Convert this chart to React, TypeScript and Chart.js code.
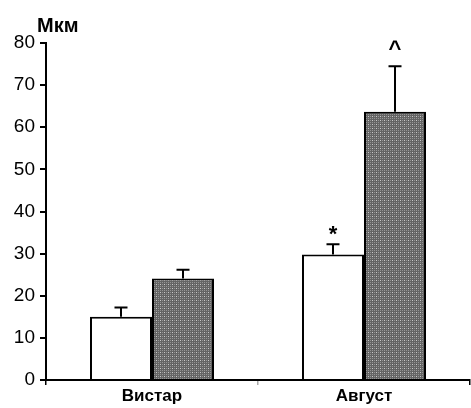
import React, { useEffect, useRef } from "react";
import { Chart, registerables } from "chart.js";

Chart.register(...registerables);

const categories = ["Вистар", "Август"];
const controlValues = [15.0, 29.8];
const controlErrors = [2.2, 2.4];
const treatedValues = [24.1, 63.7];
const treatedErrors = [2.1, 10.8];
const controlMarks = ["", "*"];
const treatedMarks = ["", "^"];
const yUnit = "Мкм";
const yMin = 0;
const yMax = 80;
const yStep = 10;

const FONT = "'Liberation Sans', Arial, sans-serif";

function makePattern(): CanvasPattern | string {
  const c = document.createElement("canvas");
  c.width = 4;
  c.height = 4;
  const g = c.getContext("2d");
  if (!g) return "#808080";
  g.fillStyle = "#646464";
  g.fillRect(0, 0, 4, 4);
  g.fillStyle = "#c8c8c8";
  g.fillRect(0, 0, 1, 1);
  g.fillStyle = "#949494";
  g.fillRect(2, 2, 1, 1);
  g.fillRect(2, 0, 1, 1);
  g.fillRect(0, 2, 1, 1);
  const p = g.createPattern(c, "repeat");
  return p || "#808080";
}

const errorPlugin = {
  id: "errorBars",
  afterDatasetsDraw(chart: any) {
    const ctx = chart.ctx;
    const y = chart.scales.y;
    const sets = [
      { vals: controlValues, errs: controlErrors, marks: controlMarks },
      { vals: treatedValues, errs: treatedErrors, marks: treatedMarks },
    ];
    ctx.save();
    sets.forEach((s, di) => {
      const meta = chart.getDatasetMeta(di);
      meta.data.forEach((bar: any, i: number) => {
        const x = bar.x;
        const yTop = y.getPixelForValue(s.vals[i]);
        const yErr = y.getPixelForValue(s.vals[i] + s.errs[i]);
        ctx.strokeStyle = "#000";
        ctx.lineWidth = 2;
        ctx.beginPath();
        ctx.moveTo(x, yTop);
        ctx.lineTo(x, yErr);
        ctx.moveTo(x - 6.5, yErr);
        ctx.lineTo(x + 6.5, yErr);
        ctx.stroke();
        const mark = s.marks[i];
        if (mark) {
          ctx.fillStyle = "#000";
          ctx.textAlign = "center";
          ctx.textBaseline = "alphabetic";
          if (mark === "*") {
            ctx.font = `bold 22px ${FONT}`;
            ctx.fillText(mark, x, yErr - 3);
          } else {
            ctx.font = `bold 22px ${FONT}`;
            ctx.fillText(mark, x, yErr - 10);
          }
        }
      });
    });
    ctx.fillStyle = "#000";
    ctx.textAlign = "left";
    ctx.textBaseline = "alphabetic";
    ctx.font = `bold 20px ${FONT}`;
    ctx.fillText(yUnit, 37, 32);
    ctx.restore();
  },
};

export default function App() {
  const ref = useRef<HTMLCanvasElement | null>(null);
  useEffect(() => {
    if (!ref.current) return;
    const pattern = makePattern();
    const chart = new Chart(ref.current, {
      type: "bar",
      data: {
        labels: categories,
        datasets: [
          {
            data: controlValues,
            backgroundColor: "#ffffff",
            borderColor: "#000000",
            borderWidth: 2,
            borderSkipped: "bottom",
            categoryPercentage: 0.585,
            barPercentage: 1,
          },
          {
            data: treatedValues,
            backgroundColor: pattern as any,
            borderColor: "#000000",
            borderWidth: 2,
            borderSkipped: "bottom",
            categoryPercentage: 0.585,
            barPercentage: 1,
          },
        ],
      },
      options: {
        responsive: false,
        animation: false,
        devicePixelRatio: 1,
        layout: { padding: { top: 43, right: 1, bottom: 0, left: 0 } },
        plugins: {
          legend: { display: false },
          tooltip: { enabled: false },
          title: { display: false },
        },
        scales: {
          x: {
            offset: true,
            grid: {
              offset: true,
              drawOnChartArea: false,
              color: (c: any) => (c.index === 1 ? "#aaaaaa" : "#000"),
              tickLength: 5,
              lineWidth: 1.5,
            },
            border: { color: "#000", width: 2 },
            ticks: {
              color: "#000",
              padding: 1,
              font: { family: FONT, size: 17, weight: "bold" },
            },
            afterFit: (s: any) => {
              s.height = 28;
            },
          },
          y: {
            min: yMin,
            max: yMax,
            ticks: {
              stepSize: yStep,
              color: "#000",
              padding: 5,
              font: { family: FONT, size: 19 },
            },
            grid: {
              drawOnChartArea: false,
              color: "#000",
              tickLength: 6,
              lineWidth: 2,
            },
            border: { color: "#000", width: 2 },
            afterFit: (s: any) => {
              s.width = 46;
            },
          },
        },
      },
      plugins: [errorPlugin],
    });
    return () => chart.destroy();
  }, []);
  return (
    <div style={{ position: "fixed", left: 0, top: 0, width: 471, height: 408, background: "#fff" }}>
      <canvas ref={ref} width={471} height={408} />
    </div>
  );
}
